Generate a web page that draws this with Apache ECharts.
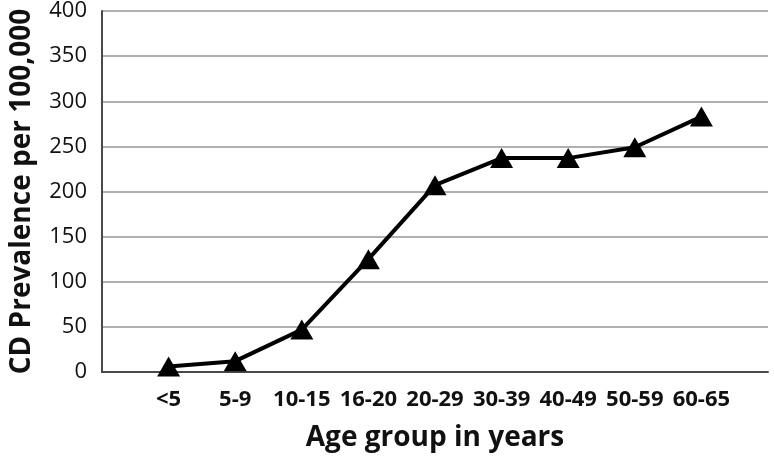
<!DOCTYPE html>
<html>
<head>
<meta charset="utf-8">
<script src="https://cdn.jsdelivr.net/npm/echarts@6/dist/echarts.min.js"></script>
<style>html,body{margin:0;padding:0;background:#fff}#c{width:774px;height:457px}</style>
</head>
<body>
<div id="c"></div>
<script>
const categories = ['', '<5', '5-9', '10-15', '16-20', '20-29', '30-39', '40-49', '50-59', '60-65', ''];
const prevalence = [null, 6, 12, 47, 125, 207, 237, 237, 249, 283, null];
const yTicks = [0, 400, 50];

const chart = echarts.init(document.getElementById('c'), null, {renderer: 'canvas'});
const font = '"Open Sans", "Noto Sans", sans-serif';
chart.setOption({
  animation: false,
  grid: {left: 98, right: 6, top: 10, bottom: 83, containLabel: false},
  xAxis: {
    type: 'category',
    data: categories,
    boundaryGap: false,
    name: 'Age group in years',
    nameLocation: 'middle',
    nameGap: 52,
    nameTextStyle: {fontFamily: font, fontSize: 28, fontWeight: 'bold', color: '#111'},
    axisLine: {lineStyle: {color: '#4a4a4a', width: 2}},
    axisTick: {show: false},
    axisLabel: {interval: 0, margin: 17, fontFamily: font, fontSize: 22, fontWeight: 'bold', color: '#111'},
    splitLine: {show: false}
  },
  yAxis: {
    type: 'value',
    min: yTicks[0], max: yTicks[1], interval: yTicks[2],
    name: 'CD Prevalence per 100,000',
    nameLocation: 'middle',
    nameGap: 66,
    nameTextStyle: {fontFamily: font, fontSize: 28, fontWeight: 'bold', color: '#111'},
    axisLine: {show: true, lineStyle: {color: '#4a4a4a', width: 2}},
    axisTick: {show: false},
    axisLabel: {margin: 15, fontFamily: font, fontSize: 22, color: '#111'},
    splitLine: {lineStyle: {color: '#b0b0b0', width: 2}}
  },
  series: [{
    type: 'line',
    data: prevalence,
    symbol: 'triangle',
    symbolSize: [23, 20],
    itemStyle: {color: '#000'},
    lineStyle: {color: '#000', width: 4},
    connectNulls: false
  }]
});
</script>
</body>
</html>
